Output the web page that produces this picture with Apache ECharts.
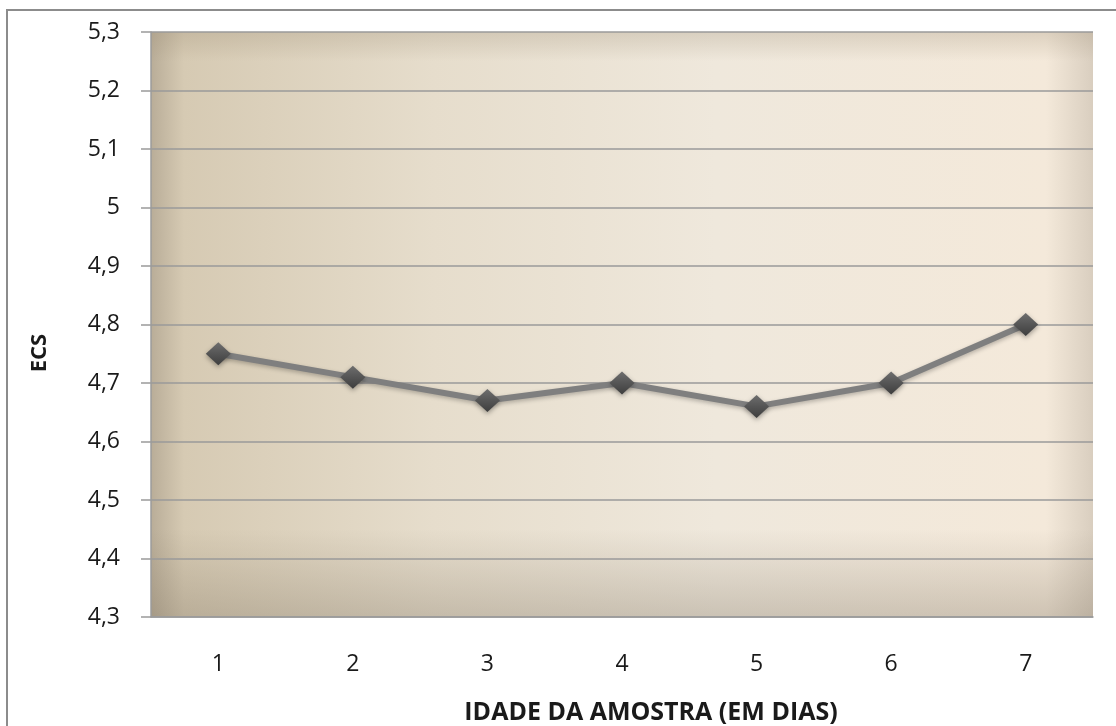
<!DOCTYPE html>
<html>
<head>
<meta charset="utf-8">
<script src="https://cdn.jsdelivr.net/npm/echarts@6/dist/echarts.min.js"></script>
<style>
  html, body { margin: 0; padding: 0; background: #fff; }
  #chart { width: 1116px; height: 726px; }
</style>
</head>
<body>
<div id="chart"></div>
<script>
// dados
const dias = ['1', '2', '3', '4', '5', '6', '7']
const ecs = [4.75, 4.71, 4.67, 4.70, 4.66, 4.70, 4.80]
const yMin = 4.3
const yMax = 5.3
const yStep = 0.1

const fonte = '"Open Sans", "Noto Sans", sans-serif'
const gridPos = { left: 151, right: 23, top: 32, bottom: 109 }

const chart = echarts.init(document.getElementById('chart'))

const option = {
  backgroundColor: '#ffffff',
  animation: false,
  grid: [
    {
      ...gridPos,
      show: true,
      borderWidth: 0,
      // fundo bege, mais escuro à esquerda
      backgroundColor: {
        type: 'linear', x: 0, y: 0, x2: 1, y2: 0,
        colorStops: [
          { offset: 0, color: '#b9ad98' },
          { offset: 0.035, color: '#d6cab3' },
          { offset: 0.3, color: '#e6ddcc' },
          { offset: 0.6, color: '#efe8dc' },
          { offset: 0.95, color: '#f4e9da' },
          { offset: 1, color: '#d9cebf' }
        ]
      }
    },
    {
      ...gridPos,
      show: true,
      borderWidth: 0,
      // sombra em cima e embaixo
      backgroundColor: {
        type: 'linear', x: 0, y: 0, x2: 0, y2: 1,
        colorStops: [
          { offset: 0, color: 'rgba(150,135,110,0.25)' },
          { offset: 0.05, color: 'rgba(150,135,110,0)' },
          { offset: 0.85, color: 'rgba(120,108,90,0)' },
          { offset: 1, color: 'rgba(120,108,90,0.3)' }
        ]
      }
    }
  ],
  xAxis: [
    {
      type: 'category',
      data: dias,
      boundaryGap: true,
      axisLine: { show: true, lineStyle: { color: '#9b9b9b', width: 1.5 } },
      axisTick: { show: false },
      axisLabel: { margin: 36, fontSize: 23, color: '#1a1a1a', fontFamily: fonte }
    },
    { gridIndex: 1, type: 'category', data: dias, show: false }
  ],
  yAxis: [
    {
      type: 'value',
      min: yMin,
      max: yMax,
      interval: yStep,
      axisLine: { show: true, lineStyle: { color: '#9b9b9b', width: 1.5 } },
      axisTick: { show: true, inside: false, length: 10, lineStyle: { color: '#9b9b9b', width: 1.5 } },
      axisLabel: {
        margin: 31,
        fontSize: 23,
        color: '#1a1a1a',
        fontFamily: fonte,
        formatter: v => String(Number(v.toFixed(1))).replace('.', ',')
      },
      splitLine: { show: true, lineStyle: { color: '#9a9a9a', width: 1.5 } }
    },
    { gridIndex: 1, type: 'value', min: yMin, max: yMax, show: false }
  ],
  graphic: [
    {
      type: 'rect',
      silent: true,
      shape: { x: 7, y: 10, width: 1300, height: 900 },
      style: { fill: 'none', stroke: '#8c8c8c', lineWidth: 2 },
      z: 100
    },
    {
      type: 'text',
      x: 40,
      y: 353,
      rotation: Math.PI / 2,
      style: {
        text: 'ECS',
        fill: '#1a1a1a',
        font: 'bold 22px ' + fonte,
        textAlign: 'center',
        textVerticalAlign: 'middle'
      }
    },
    {
      type: 'text',
      x: 651,
      y: 713,
      style: {
        text: 'IDADE DA AMOSTRA (EM DIAS)',
        fill: '#1a1a1a',
        font: 'bold 25px ' + fonte,
        textAlign: 'center',
        textVerticalAlign: 'middle'
      }
    }
  ],
  series: [
    {
      name: 'ECS',
      type: 'line',
      data: ecs,
      z: 5,
      symbol: 'diamond',
      symbolSize: [25, 23],
      lineStyle: {
        color: '#7f7f7f',
        width: 6,
        shadowBlur: 4,
        shadowColor: 'rgba(0,0,0,0.25)',
        shadowOffsetY: 2
      },
      itemStyle: {
        color: {
          type: 'linear', x: 0, y: 0, x2: 0, y2: 1,
          colorStops: [
            { offset: 0, color: '#6e6e6e' },
            { offset: 0.5, color: '#555555' },
            { offset: 1, color: '#3e3e3e' }
          ]
        },
        shadowBlur: 5,
        shadowColor: 'rgba(0,0,0,0.35)',
        shadowOffsetY: 2
      }
    }
  ]
}

chart.setOption(option)
</script>
</body>
</html>
